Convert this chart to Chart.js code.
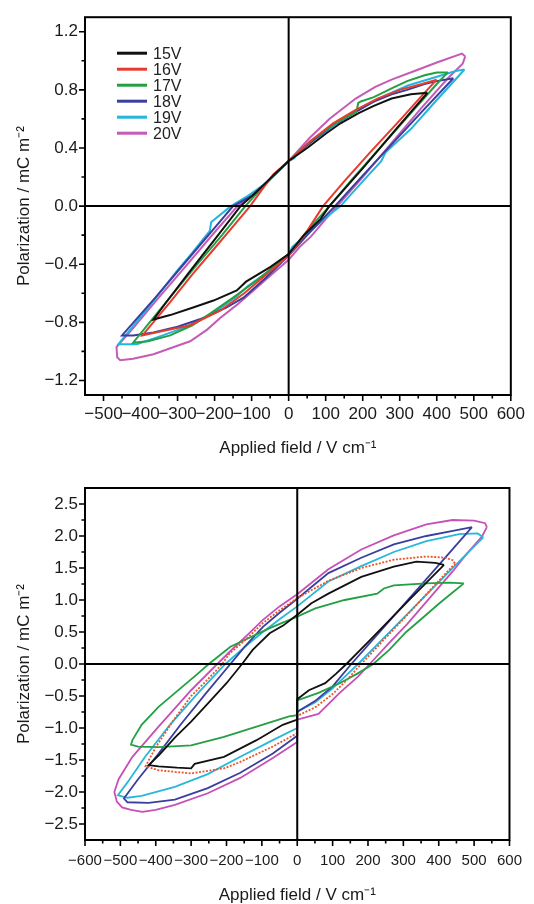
<!DOCTYPE html>
<html>
<head>
<meta charset="utf-8">
<script src="https://cdn.jsdelivr.net/npm/chart.js@4.4.1/dist/chart.umd.min.js"></script>
<style>
  html, body { margin: 0; padding: 0; background: #fff; }
  #wrap { position: relative; width: 534px; height: 904px; }
  .box { position: absolute; left: 0; width: 534px; }
  #boxA { top: 0; height: 462px; }
  #boxB { top: 462px; height: 442px; }
</style>
</head>
<body>
<div id="wrap">
  <div class="box" id="boxA"><canvas id="chartA"></canvas></div>
  <div class="box" id="boxB"><canvas id="chartB"></canvas></div>
</div>
<script>
// === Data ===
const voltages = ['15V', '16V', '17V', '18V', '19V', '20V'];

// top panel: [field V/cm, polarization mC/m2]
const loopA15 = [[375,0.78],[330,0.77],[278,0.74],[230,0.69],[189,0.64],[140,0.57],[101,0.50],[50,0.40],[0,0.31],[-50,0.19],[-90,0.09],[-130,0.00],[-200,-0.23],[-270,-0.46],[-330,-0.66],[-365,-0.78],[-320,-0.75],[-260,-0.70],[-203,-0.65],[-140,-0.58],[-115,-0.52],[-50,-0.42],[0,-0.33],[41,-0.20],[86,-0.09],[110,0.00],[200,0.26],[290,0.53],[375,0.78]];
const loopA16 = [[400,0.87],[360,0.84],[300,0.80],[240,0.74],[180,0.66],[120,0.57],[60,0.45],[0,0.31],[-41,0.22],[-70,0.12],[-104,0.00],[-150,-0.14],[-200,-0.29],[-260,-0.47],[-320,-0.66],[-395,-0.89],[-340,-0.86],[-266,-0.82],[-185,-0.72],[-120,-0.60],[-60,-0.47],[0,-0.34],[40,-0.21],[93,0.00],[150,0.17],[220,0.37],[300,0.59],[360,0.76],[400,0.87]];
const loopA17 = [[430,0.92],[400,0.92],[367,0.90],[320,0.86],[278,0.81],[230,0.75],[195,0.72],[188,0.71],[183,0.65],[120,0.56],[60,0.45],[0,0.31],[-60,0.16],[-117,0.00],[-180,-0.20],[-250,-0.41],[-337,-0.68],[-420,-0.94],[-380,-0.93],[-320,-0.89],[-260,-0.82],[-212,-0.74],[-150,-0.63],[-80,-0.50],[0,-0.33],[50,-0.17],[110,0.00],[170,0.18],[250,0.41],[330,0.64],[400,0.84],[430,0.92]];
const loopA18 = [[445,0.88],[400,0.86],[367,0.84],[320,0.80],[278,0.77],[230,0.72],[189,0.66],[120,0.56],[60,0.44],[0,0.31],[-60,0.16],[-100,0.07],[-150,0.00],[-200,-0.15],[-280,-0.39],[-360,-0.63],[-450,-0.89],[-420,-0.89],[-365,-0.87],[-300,-0.83],[-230,-0.77],[-170,-0.70],[-122,-0.63],[-60,-0.49],[0,-0.34],[50,-0.20],[125,0.00],[200,0.21],[280,0.43],[360,0.65],[445,0.88]];
const loopA19 = [[475,0.94],[451,0.93],[400,0.89],[322,0.83],[260,0.76],[189,0.66],[120,0.55],[60,0.44],[25,0.37],[15,0.33],[0,0.31],[-60,0.16],[-110,0.07],[-156,0.00],[-209,-0.11],[-213,-0.17],[-260,-0.32],[-300,-0.44],[-380,-0.70],[-460,-0.95],[-440,-0.95],[-410,-0.95],[-340,-0.89],[-275,-0.83],[-200,-0.73],[-140,-0.62],[-110,-0.55],[-60,-0.46],[0,-0.33],[10,-0.28],[50,-0.19],[100,-0.08],[140,0.00],[200,0.17],[250,0.31],[262,0.37],[330,0.53],[400,0.73],[475,0.94]];
const loopA20 = [[477,1.03],[468,1.05],[402,0.99],[340,0.93],[278,0.87],[234,0.82],[181,0.74],[110,0.60],[57,0.47],[0,0.31],[-60,0.16],[-100,0.07],[-138,0.00],[-200,-0.18],[-280,-0.42],[-351,-0.63],[-420,-0.84],[-465,-0.97],[-463,-1.04],[-455,-1.06],[-420,-1.05],[-365,-1.02],[-310,-0.97],[-266,-0.93],[-220,-0.85],[-185,-0.77],[-140,-0.68],[-95,-0.58],[-50,-0.48],[0,-0.37],[30,-0.28],[60,-0.21],[100,-0.09],[131,0.00],[200,0.20],[280,0.44],[360,0.68],[430,0.88],[470,0.98],[477,1.03]];

// bottom panel
const loopB15 = [[415,1.55],[390,1.58],[337,1.60],[273,1.52],[181,1.36],[88,1.10],[40,0.95],[0,0.77],[-40,0.60],[-78,0.48],[-126,0.22],[-156,0.00],[-200,-0.30],[-253,-0.62],[-300,-0.90],[-346,-1.15],[-390,-1.42],[-420,-1.58],[-392,-1.60],[-340,-1.62],[-300,-1.63],[-290,-1.56],[-207,-1.45],[-115,-1.19],[-41,-0.95],[0,-0.87],[0,-0.55],[33,-0.41],[79,-0.30],[110,-0.15],[139,0.00],[200,0.34],[260,0.68],[320,1.02],[370,1.30],[415,1.55]];
const loopB16 = [[446,1.57],[440,1.62],[420,1.66],[365,1.68],[273,1.63],[181,1.50],[88,1.30],[0,1.03],[-50,0.84],[-97,0.64],[-150,0.36],[-192,0.16],[-212,0.00],[-260,-0.28],[-300,-0.50],[-350,-0.88],[-400,-1.30],[-429,-1.60],[-392,-1.66],[-300,-1.71],[-207,-1.63],[-161,-1.53],[-69,-1.29],[0,-1.08],[0,-0.81],[50,-0.68],[100,-0.47],[140,-0.25],[181,0.00],[250,0.41],[320,0.82],[390,1.24],[446,1.57]];
const loopB17 = [[471,1.26],[430,1.27],[365,1.26],[273,1.23],[245,1.18],[226,1.10],[134,1.00],[51,0.87],[0,0.74],[-78,0.56],[-189,0.27],[-250,0.00],[-281,-0.15],[-392,-0.67],[-440,-0.95],[-466,-1.19],[-470,-1.26],[-450,-1.29],[-392,-1.30],[-300,-1.27],[-207,-1.14],[-115,-0.98],[-23,-0.82],[0,-0.80],[0,-0.57],[60,-0.45],[120,-0.30],[170,-0.15],[215,0.00],[260,0.22],[308,0.50],[350,0.70],[402,0.95],[440,1.12],[471,1.26]];
const loopB18 = [[494,2.14],[476,2.12],[440,2.08],[365,2.00],[273,1.87],[181,1.66],[88,1.42],[0,1.02],[-50,0.80],[-97,0.58],[-150,0.26],[-189,0.00],[-260,-0.47],[-330,-0.95],[-392,-1.40],[-450,-1.80],[-490,-2.10],[-480,-2.16],[-420,-2.17],[-346,-2.12],[-253,-1.94],[-161,-1.70],[-69,-1.40],[0,-1.12],[0,-0.75],[50,-0.58],[100,-0.35],[153,0.00],[220,0.42],[300,0.92],[380,1.42],[440,1.80],[494,2.14]];
const loopB19 = [[526,1.98],[510,2.04],[458,2.03],[365,1.92],[273,1.75],[181,1.53],[88,1.29],[0,0.90],[-50,0.70],[-97,0.50],[-150,0.26],[-203,0.00],[-280,-0.45],[-360,-0.95],[-430,-1.45],[-480,-1.85],[-507,-2.05],[-480,-2.09],[-440,-2.06],[-346,-1.92],[-253,-1.72],[-161,-1.45],[-69,-1.19],[0,-1.00],[0,-0.74],[50,-0.60],[100,-0.38],[140,-0.17],[172,0.00],[240,0.38],[320,0.83],[400,1.28],[470,1.67],[526,1.98]];
const loopB20 = [[536,2.14],[531,2.20],[500,2.24],[439,2.25],[365,2.18],[273,2.01],[181,1.79],[88,1.48],[0,1.09],[-50,0.90],[-97,0.69],[-140,0.46],[-180,0.25],[-226,0.00],[-300,-0.41],[-392,-0.98],[-466,-1.45],[-505,-1.80],[-517,-2.00],[-510,-2.15],[-495,-2.24],[-470,-2.28],[-438,-2.31],[-400,-2.28],[-346,-2.20],[-253,-2.02],[-161,-1.78],[-69,-1.47],[0,-1.22],[0,-0.87],[60,-0.78],[120,-0.45],[171,-0.20],[205,0.00],[260,0.33],[310,0.62],[360,0.94],[402,1.21],[440,1.45],[476,1.70],[522,1.99],[536,2.14]];

// axes
const fieldTicksA = [-500, -400, -300, -200, -100, 0, 100, 200, 300, 400, 500, 600];
const fieldMinorA = [-450, -350, -250, -150, -50, 50, 150, 250, 350, 450, 550];
const polTicksA = [-1.2, -0.8, -0.4, 0, 0.4, 0.8, 1.2];
const polMinorA = [-1.0, -0.6, -0.2, 0.2, 0.6, 1.0];
const fieldTicksB = [-600, -500, -400, -300, -200, -100, 0, 100, 200, 300, 400, 500, 600];
const fieldMinorB = [-550, -450, -350, -250, -150, -50, 50, 150, 250, 350, 450, 550];
const polTicksB = [-2.5, -2.0, -1.5, -1.0, -0.5, 0, 0.5, 1.0, 1.5, 2.0, 2.5];
const polMinorB = [-2.25, -1.75, -1.25, -0.75, -0.25, 0.25, 0.75, 1.25, 1.75, 2.25];

// === Styles ===
const colorsA = ['#111111', '#e63b2e', '#23a043', '#3a3f9e', '#23b5dd', '#c45bb4'];
const colorsB = ['#111111', '#e8542e', '#23a043', '#3a3f9e', '#27b7d8', '#c651b6'];
const FONT = "'Liberation Sans', Arial, sans-serif";

const minus = s => String(s).replace('-', '\u2212');

// frame, zero lines and tick marks
const framePlugin = {
  id: 'frame',
  afterDatasetsDraw(chart, args, o) {
    const { ctx, chartArea: a, scales: { x, y } } = chart;
    ctx.save();
    ctx.strokeStyle = '#000';
    ctx.lineWidth = 2;
    const x0 = x.getPixelForValue(0), y0 = y.getPixelForValue(0);
    ctx.beginPath();
    ctx.moveTo(x0, a.top); ctx.lineTo(x0, a.bottom);
    ctx.moveTo(a.left, y0); ctx.lineTo(a.right, y0);
    ctx.stroke();
    ctx.strokeRect(a.left, a.top, a.right - a.left, a.bottom - a.top);
    ctx.lineWidth = 1.6;
    ctx.beginPath();
    o.xMajor.forEach(v => { const p = x.getPixelForValue(v); ctx.moveTo(p, a.bottom); ctx.lineTo(p, a.bottom + 6); });
    o.xMinor.forEach(v => { const p = x.getPixelForValue(v); ctx.moveTo(p, a.bottom); ctx.lineTo(p, a.bottom + 3.5); });
    o.yMajor.forEach(v => { const p = y.getPixelForValue(v); ctx.moveTo(a.left, p); ctx.lineTo(a.left - 6, p); });
    o.yMinor.forEach(v => { const p = y.getPixelForValue(v); ctx.moveTo(a.left, p); ctx.lineTo(a.left - 3.5, p); });
    ctx.stroke();
    ctx.restore();
  }
};

// legend inside the top panel
const legendPlugin = {
  id: 'innerLegend',
  afterDraw(chart) {
    const { ctx, chartArea: a } = chart;
    ctx.save();
    ctx.font = '16px ' + FONT;
    ctx.textBaseline = 'middle';
    chart.data.datasets.forEach((ds, i) => {
      const yy = a.top + 36 + i * 16;
      ctx.strokeStyle = ds.borderColor;
      ctx.lineWidth = 3;
      ctx.beginPath();
      ctx.moveTo(a.left + 32, yy); ctx.lineTo(a.left + 62, yy);
      ctx.stroke();
      ctx.fillStyle = '#222';
      ctx.fillText(ds.label, a.left + 68, yy + 1);
    });
    ctx.restore();
  }
};

function makeChart(id, loops, c) {
  return new Chart(document.getElementById(id), {
    type: 'scatter',
    data: {
      datasets: loops.map((pts, i) => ({
        label: voltages[i],
        data: pts.map(p => ({ x: p[0], y: p[1] })),
        showLine: true,
        borderColor: c.colors[i],
        borderWidth: c.lineWidth,
        borderDash: c.dash[i] || [],
        pointRadius: 0,
        tension: 0,
        fill: false
      }))
    },
    options: {
      animation: false,
      responsive: true,
      maintainAspectRatio: false,
      layout: { padding: { top: c.padTop, right: 16, left: 0, bottom: 0 } },
      plugins: {
        legend: { display: false },
        tooltip: { enabled: false },
        frame: { xMajor: c.xTicks, xMinor: c.xMinor, yMajor: c.yTicks, yMinor: c.yMinor }
      },
      scales: {
        x: {
          type: 'linear', min: c.xMin, max: c.xMax,
          afterBuildTicks: s => { s.ticks = c.xTicks.map(v => ({ value: v })); },
          afterFit: s => { s.height = c.xAxisH; },
          grid: { display: false, drawTicks: false },
          border: { display: false },
          ticks: { autoSkip: false, maxRotation: 0, padding: c.xPad, color: '#1a1a1a',
                   font: { family: FONT, size: c.xFont }, callback: v => minus(v) },
          title: { display: true, text: 'Applied field / V cm\u207B\u00B9', color: '#1a1a1a',
                   font: { family: FONT, size: 17, lineHeight: 1 }, padding: { top: 0, bottom: c.xTitlePad } }
        },
        y: {
          type: 'linear', min: c.yMin, max: c.yMax,
          afterBuildTicks: s => { s.ticks = c.yTicks.map(v => ({ value: v })); },
          afterFit: s => { s.width = 85; },
          grid: { display: false, drawTicks: false },
          border: { display: false },
          ticks: { autoSkip: false, padding: 7, color: '#1a1a1a',
                   font: { family: FONT, size: 17 }, callback: v => minus(Number(v).toFixed(1)) },
          title: { display: true, text: 'Polarization / mC m\u207B\u00B2', color: '#1a1a1a',
                   font: { family: FONT, size: 17, lineHeight: 1 }, padding: { top: 16, bottom: 0 } }
        }
      }
    },
    plugins: c.legend ? [framePlugin, legendPlugin] : [framePlugin]
  });
}

makeChart('chartA', [loopA15, loopA16, loopA17, loopA18, loopA19, loopA20], {
  colors: colorsA, lineWidth: 2, dash: [],
  padTop: 16, xAxisH: 67, xPad: 9, xFont: 17, xTitlePad: 5.5,
  xMin: -550, xMax: 600, yMin: -1.3, yMax: 1.3,
  xTicks: fieldTicksA, xMinor: fieldMinorA, yTicks: polTicksA, yMinor: polMinorA,
  legend: true
});

makeChart('chartB', [loopB15, loopB16, loopB17, loopB18, loopB19, loopB20], {
  colors: colorsB, lineWidth: 1.8, dash: [[], [2, 1.5]],
  padTop: 26, xAxisH: 64, xPad: 12, xFont: 15, xTitlePad: 0,
  xMin: -600, xMax: 600, yMin: -2.75, yMax: 2.75,
  xTicks: fieldTicksB, xMinor: fieldMinorB, yTicks: polTicksB, yMinor: polMinorB,
  legend: false
});
</script>
</body>
</html>
